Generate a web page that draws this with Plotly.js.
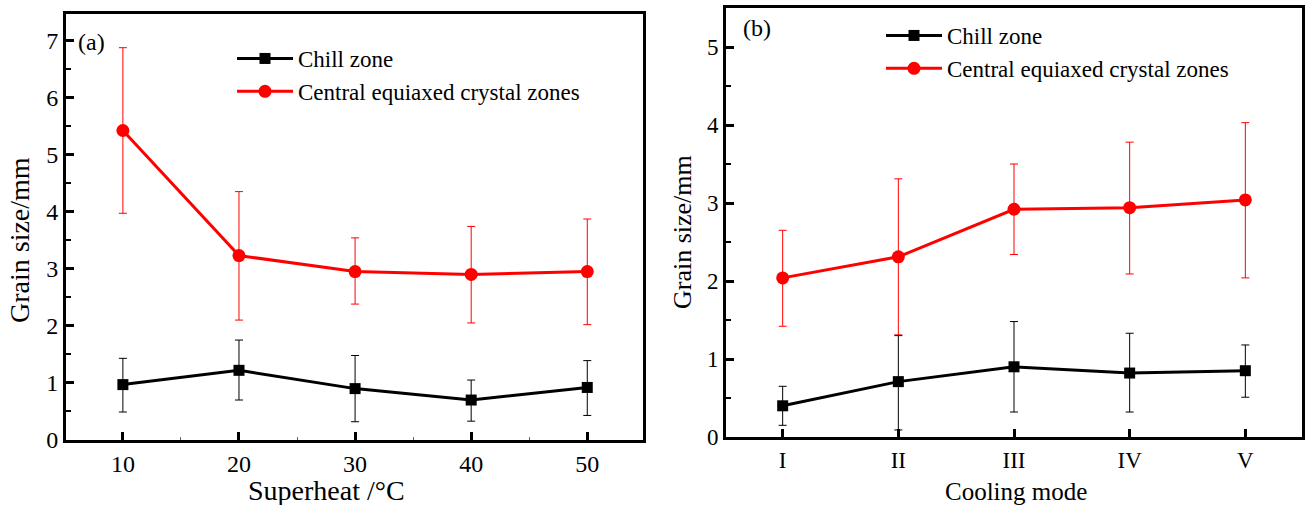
<!DOCTYPE html>
<html><head><meta charset="utf-8">
<script src="https://cdn.plot.ly/plotly-3.0.1.min.js"></script>
<style>html,body{margin:0;padding:0;background:#fff}#g{width:1308px;height:505px}</style>
</head><body><div id="g"></div>
<script>
// Panel (a): Superheat
const superheat = [10, 20, 30, 40, 50];
const chillA = [0.97, 1.22, 0.90, 0.70, 0.92];
const chillA_hi = [1.43, 1.75, 1.48, 1.05, 1.39];
const chillA_lo = [0.49, 0.70, 0.32, 0.33, 0.43];
const centralA = [5.42, 3.23, 2.95, 2.90, 2.95];
const centralA_hi = [6.87, 4.35, 3.54, 3.74, 3.87];
const centralA_lo = [3.97, 2.10, 2.38, 2.05, 2.02];
// Panel (b): Cooling mode
const modes = ['I', 'II', 'III', 'IV', 'V'];
const chillB = [0.40, 0.71, 0.90, 0.82, 0.85];
const chillB_hi = [0.65, 1.30, 1.48, 1.33, 1.18];
const chillB_lo = [0.15, 0.09, 0.32, 0.32, 0.51];
const centralB = [2.04, 2.31, 2.92, 2.94, 3.04];
const centralB_hi = [2.65, 3.31, 3.50, 3.78, 4.03];
const centralB_lo = [1.42, 1.31, 2.34, 2.09, 2.04];
const seriesNames = ['Chill zone', 'Central equiaxed crystal zones'];
const titles = {xa: 'Superheat /°C', xb: 'Cooling mode', y: 'Grain size/mm', a: '(a)', b: '(b)'};

const W = 1308, H = 505;
const fx = p => p / W, fy = p => 1 - p / H;
const FONT = 'Liberation Serif, Times New Roman, serif';
const idx = modes.map((_, i) => i);

function err(y, hi, lo, color) {
  return {type: 'data', symmetric: false,
    array: hi.map((v, i) => +(v - y[i]).toFixed(3)),
    arrayminus: lo.map((v, i) => +(y[i] - v).toFixed(3)),
    color: color, thickness: 1, width: 4};
}
function tr(x, y, hi, lo, color, sym, name, xa, ya, lg) {
  return {x: x, y: y, type: 'scatter', mode: 'lines+markers', name: name,
    xaxis: xa, yaxis: ya, legend: lg,
    line: {color: color, width: 3},
    marker: {color: color, symbol: sym, size: sym === 'square' ? 11 : 13},
    error_y: err(y, hi, lo, color)};
}
const data = [
  tr(superheat, chillA, chillA_hi, chillA_lo, '#000000', 'square', seriesNames[0], 'x', 'y', 'legend'),
  tr(superheat, centralA, centralA_hi, centralA_lo, '#ff0000', 'circle', seriesNames[1], 'x', 'y', 'legend'),
  tr(idx, chillB, chillB_hi, chillB_lo, '#000000', 'square', seriesNames[0], 'x2', 'y2', 'legend2'),
  tr(idx, centralB, centralB_hi, centralB_lo, '#ff0000', 'circle', seriesNames[1], 'x2', 'y2', 'legend2')
];

function ax(size) {
  return {showline: true, linecolor: '#000', linewidth: 3, mirror: true,
    ticks: 'inside', ticklen: 8, tickwidth: 3, tickcolor: '#000',
    showgrid: false, zeroline: false, tickfont: {family: FONT, size: size, color: '#000'}};
}
function ann(text, x, y, size, angle) {
  return {text: text, x: fx(x), y: fy(y), xref: 'paper', yref: 'paper',
    xanchor: 'center', yanchor: 'middle', textangle: angle || 0,
    showarrow: false, font: {family: FONT, size: size, color: '#000'}};
}

const layout = {
  width: W, height: H, margin: {l: 0, r: 0, t: 0, b: 0},
  paper_bgcolor: '#fff', plot_bgcolor: '#fff',
  font: {family: FONT, color: '#000'},
  xaxis: Object.assign(ax(24), {domain: [fx(66), fx(643)], range: [5.1, 54.8],
    tickvals: superheat, anchor: 'y',
    minor: {ticks: 'inside', ticklen: 3, tickwidth: 1, dtick: 5, tick0: 5, tickcolor: '#666'}}),
  yaxis: Object.assign(ax(24), {domain: [fy(440), fy(14)], range: [0, 7.46],
    dtick: 1, anchor: 'x',
    minor: {ticks: 'inside', ticklen: 5, tickwidth: 2, dtick: 0.5, tickcolor: '#000'}}),
  xaxis2: Object.assign(ax(23), {domain: [fx(726), fx(1302)], range: [-0.49, 4.49],
    tickvals: idx, ticktext: modes, anchor: 'y2'}),
  yaxis2: Object.assign(ax(23), {domain: [fy(437), fy(8)], range: [0, 5.5],
    dtick: 1, anchor: 'x2',
    minor: {ticks: 'inside', ticklen: 5, tickwidth: 2, dtick: 0.5, tickcolor: '#000'}}),
  legend: {x: fx(232), y: fy(37), xanchor: 'left', yanchor: 'top', bgcolor: 'rgba(0,0,0,0)',
    font: {family: FONT, size: 23, color: '#000'}, itemwidth: 56, tracegroupgap: 0},
  legend2: {x: fx(881), y: fy(14), xanchor: 'left', yanchor: 'top', bgcolor: 'rgba(0,0,0,0)',
    font: {family: FONT, size: 23, color: '#000'}, itemwidth: 56, tracegroupgap: 0},
  annotations: [
    ann(titles.a, 91, 42, 24),
    ann(titles.b, 757, 28, 24),
    ann(titles.xa, 326, 490, 28),
    ann(titles.xb, 1016, 491, 25),
    ann(titles.y, 19, 240, 28, -90),
    ann(titles.y, 683, 232, 26, -90)
  ]
};
Plotly.newPlot('g', data, layout, {staticPlot: true, displayModeBar: false});
</script></body></html>
